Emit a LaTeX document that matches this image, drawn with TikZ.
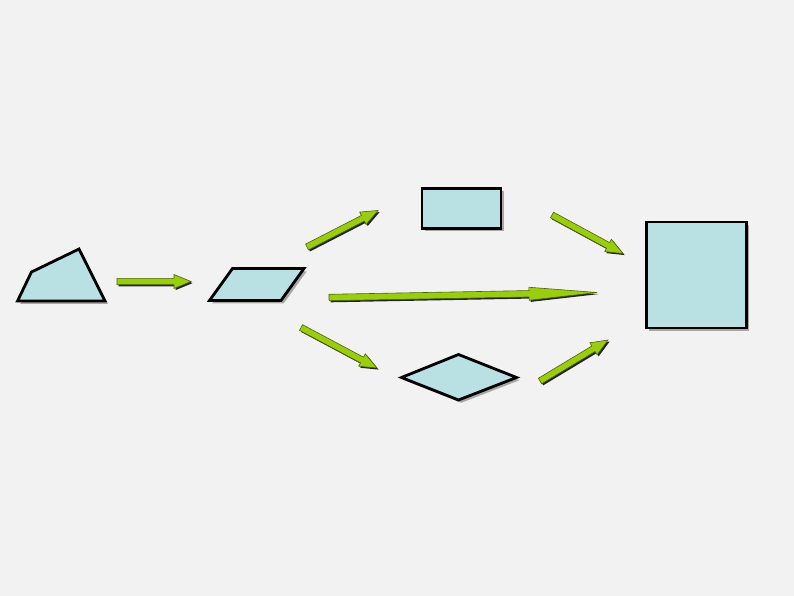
\documentclass[tikz,border=0pt]{standalone}
\usetikzlibrary{calc,shadows}
\definecolor{bg}{HTML}{F2F2F2}
\definecolor{shapefill}{HTML}{B9E1E4}
\definecolor{arrowgreen}{HTML}{9ACD10}
\definecolor{arrowedge}{HTML}{4A6600}
\tikzset{
  fig/.style={draw=black, line width=2.8pt, fill=shapefill, line join=miter,
    drop shadow={shadow xshift=2.8pt, shadow yshift=-2.8pt, fill=black, opacity=0.3}},
  garrow/.style={draw=arrowedge, line width=0.6pt, fill=arrowgreen, line join=miter,
    drop shadow={shadow xshift=1.6pt, shadow yshift=-1.6pt, fill=black, opacity=0.85}}
}
% block arrow: tail, tip, head length, head half width (pt)
\newcommand\garrow[4]{%
  \coordinate (gh) at ($(#2)!#3pt!(#1)$);
  \draw[garrow] ($(#1)!3.2pt!90:(#2)$) -- ($(gh)!3.2pt!90:(#2)$) -- ($(gh)!#4pt!90:(#2)$)
    -- (#2) -- ($(gh)!#4pt!-90:(#2)$) -- ($(gh)!3.2pt!-90:(#2)$) -- ($(#1)!3.2pt!-90:(#2)$) -- cycle;
}
\begin{document}
\begin{tikzpicture}[x=1pt,y=-1pt]
\fill[bg] (0,0) rectangle (794,596);
% shapes
\draw[fig] (17.5,301) -- (31.5,272) -- (79,249) -- (105,301) -- cycle;
\draw[fig] (232.5,268.5) -- (304,268.5) -- (281,300.5) -- (209.5,300.5) -- cycle;
\draw[fig] (422,188.5) rectangle (501,228.5);
\draw[fig] (401.5,377.5) -- (458.5,354.5) -- (516.5,377.5) -- (458.5,400) -- cycle;
\draw[fig] (646.5,222) rectangle (746.5,328);
% arrow ends
\coordinate (t1) at (117,281.5);
\coordinate (h1) at (191,281.5);
\coordinate (t2) at (307,247);
\coordinate (h2) at (378,210.5);
\coordinate (t3) at (329,297.5);
\coordinate (h3) at (597,292.5);
\coordinate (t4) at (301,327.5);
\coordinate (h4) at (377,368);
\coordinate (t5) at (552,215);
\coordinate (h5) at (623,253.5);
\coordinate (t6) at (540,381);
\coordinate (h6) at (608,340);
% arrows
\garrow{t1}{h1}{17}{7}
\garrow{t2}{h2}{17}{7}
\garrow{t3}{h3}{68}{6.5}
\garrow{t4}{h4}{17}{7}
\garrow{t5}{h5}{17}{7}
\garrow{t6}{h6}{17}{7}
\end{tikzpicture}
\end{document}
